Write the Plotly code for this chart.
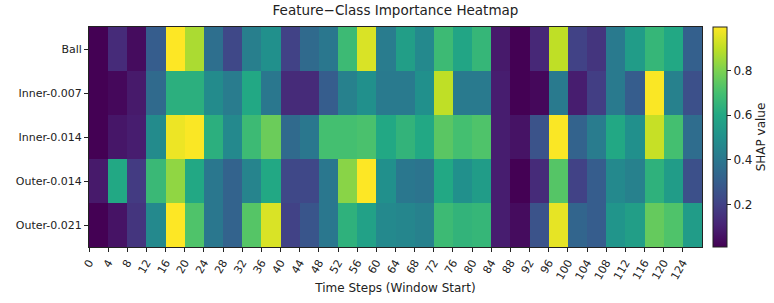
import plotly.graph_objects as go

steps = list(range(0, 128, 4))
classes = ["Ball", "Inner-0.007", "Inner-0.014", "Outer-0.014", "Outer-0.021"]

ball = [0.01, 0.13, 0.04, 0.30, 1.00, 0.87, 0.37, 0.22, 0.43, 0.50, 0.20, 0.35, 0.40, 0.68, 0.94, 0.42,
        0.56, 0.47, 0.68, 0.59, 0.66, 0.08, 0.01, 0.12, 0.90, 0.20, 0.16, 0.41, 0.55, 0.66, 0.60, 0.31]
inner_007 = [0.01, 0.03, 0.08, 0.35, 0.63, 0.63, 0.48, 0.42, 0.60, 0.40, 0.13, 0.13, 0.30, 0.44, 0.50, 0.41,
             0.41, 0.50, 0.90, 0.41, 0.41, 0.09, 0.01, 0.03, 0.41, 0.09, 0.19, 0.41, 0.30, 0.99, 0.44, 0.25]
inner_014 = [0.01, 0.07, 0.09, 0.48, 0.97, 0.99, 0.63, 0.47, 0.68, 0.77, 0.35, 0.40, 0.70, 0.70, 0.71, 0.60,
             0.65, 0.60, 0.74, 0.70, 0.72, 0.09, 0.06, 0.26, 0.99, 0.32, 0.42, 0.60, 0.50, 0.91, 0.70, 0.36]
outer_014 = [0.08, 0.60, 0.18, 0.67, 0.83, 0.60, 0.40, 0.32, 0.45, 0.60, 0.22, 0.22, 0.40, 0.82, 1.00, 0.50,
             0.40, 0.39, 0.60, 0.50, 0.55, 0.09, 0.01, 0.13, 0.73, 0.20, 0.30, 0.47, 0.44, 0.64, 0.55, 0.25]
outer_021 = [0.01, 0.06, 0.16, 0.47, 1.00, 0.72, 0.40, 0.32, 0.73, 0.94, 0.20, 0.27, 0.40, 0.64, 0.57, 0.47,
             0.46, 0.44, 0.68, 0.65, 0.66, 0.09, 0.04, 0.26, 0.96, 0.33, 0.30, 0.52, 0.56, 0.76, 0.72, 0.55]

z = [ball, inner_007, inner_014, outer_014, outer_021]
step_w = steps[1] - steps[0]
x_centers = [s + step_w / 2 for s in steps]

viridis_hex = ["#440154", "#482475", "#414487", "#355f8d", "#2a788e", "#21918c",
               "#22a884", "#44bf70", "#7ad151", "#bddf26", "#fde725"]
colorscale = [[i / (len(viridis_hex) - 1), c] for i, c in enumerate(viridis_hex)]

font = "DejaVu Sans"
ink = "#222"

fig = go.Figure(go.Heatmap(
    z=z, x=x_centers, y=classes,
    colorscale=colorscale, zmin=0.01, zmax=0.995,
    colorbar=dict(
        title=dict(text="SHAP value", side="right", font=dict(family=font, size=12, color=ink)),
        thickness=14, len=1.0, lenmode="fraction", x=1.018, xanchor="left", y=0.5, yanchor="middle",
        xpad=0, ypad=0,
        outlinewidth=1, outlinecolor=ink,
        tickvals=[0.2, 0.4, 0.6, 0.8], ticks="outside", ticklen=4, tickcolor=ink,
        tickfont=dict(family=font, size=12, color=ink),
    ),
))

fig.update_layout(
    width=774, height=303,
    margin=dict(l=89, r=72, t=27, b=56, autoexpand=False),
    paper_bgcolor="white", plot_bgcolor="white",
    title=dict(text="Feature−Class Importance Heatmap", x=0.5, xref="paper", xanchor="center",
               y=1, yref="container", yanchor="top", pad=dict(t=6),
               font=dict(family=font, size=13.5, color=ink)),
    font=dict(family=font, color=ink),
)
fig.update_xaxes(
    tickvals=steps, ticktext=[str(s) for s in steps], tickangle=-60,
    range=[steps[0], steps[-1] + step_w],
    ticks="outside", ticklen=4, tickcolor=ink,
    tickfont=dict(family=font, size=11, color=ink),
    title=dict(text="Time Steps (Window Start)", font=dict(family=font, size=12, color=ink), standoff=2),
    showline=True, linecolor=ink, linewidth=1, mirror=True, showgrid=False, zeroline=False,
)
fig.update_yaxes(
    autorange="reversed",
    ticks="outside", ticklen=4, tickcolor=ink,
    tickfont=dict(family=font, size=11, color=ink),
    showline=True, linecolor=ink, linewidth=1, mirror=True, showgrid=False, zeroline=False,
)

fig.write_html("out.html")
